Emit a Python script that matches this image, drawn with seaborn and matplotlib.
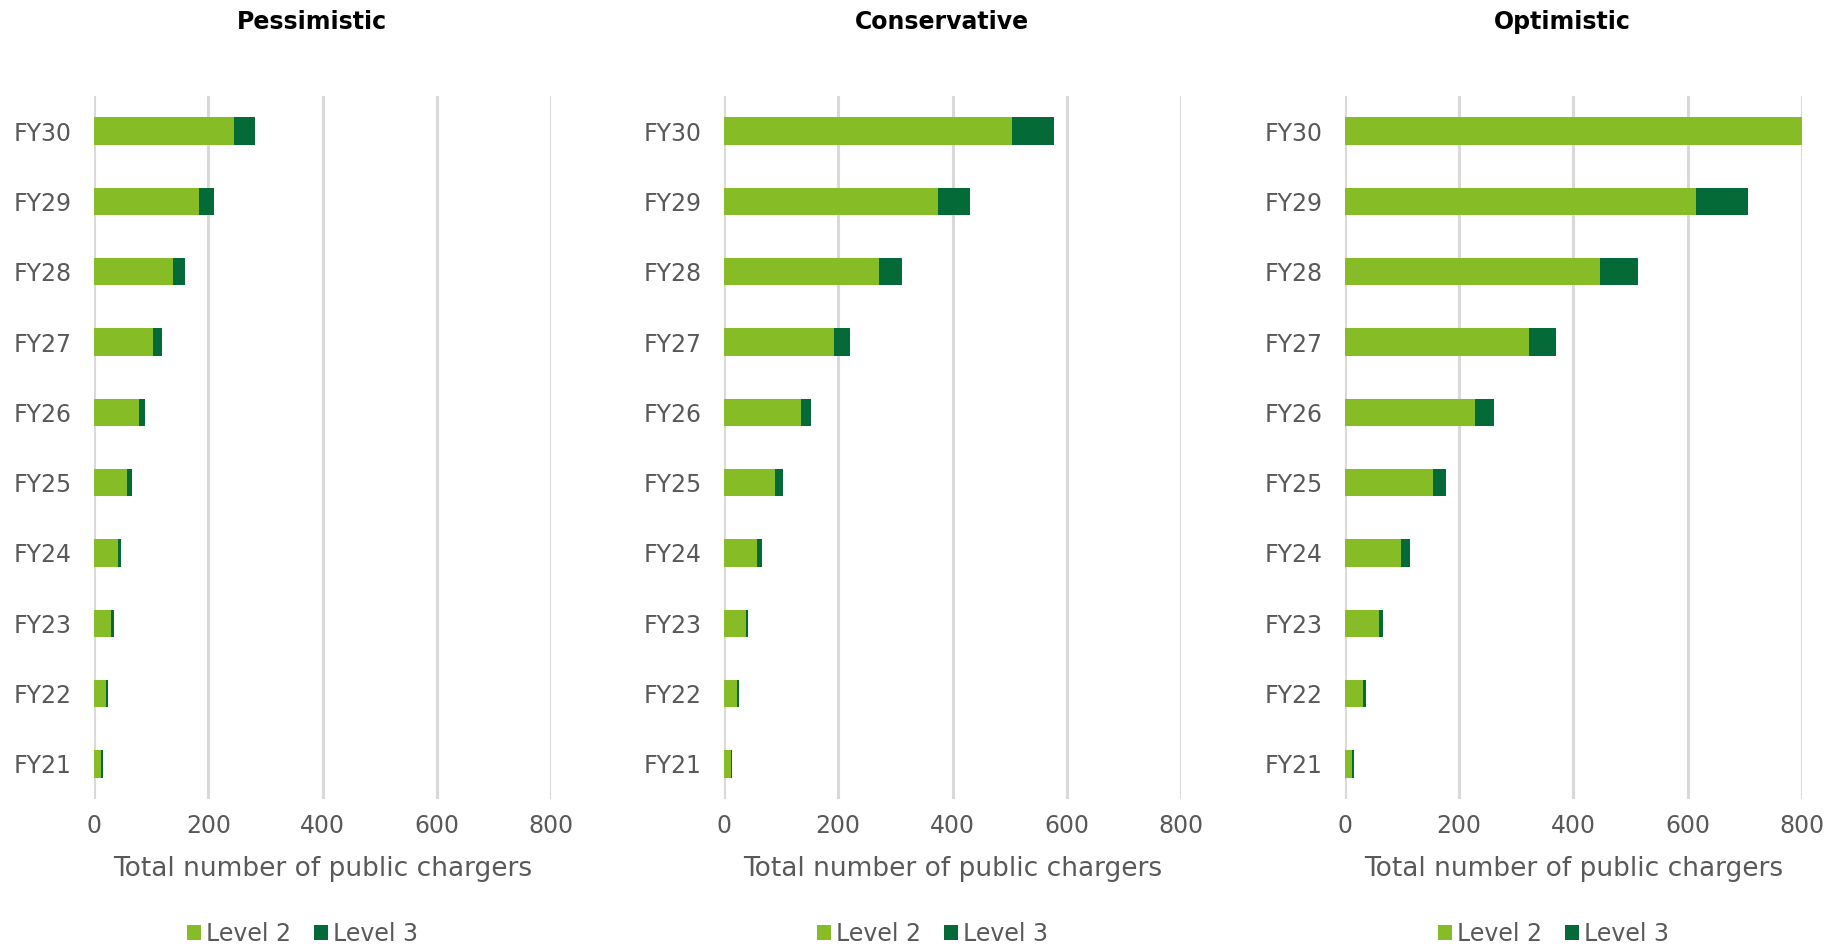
import matplotlib
matplotlib.use("Agg")
import matplotlib.pyplot as plt
from matplotlib.patches import Patch
import pandas as pd
import seaborn as sns

# Fiscal years, top to bottom
years = ["FY30", "FY29", "FY28", "FY27", "FY26", "FY25", "FY24", "FY23", "FY22", "FY21"]
scenarios = ["Pessimistic", "Conservative", "Optimistic"]

# Public chargers by type for each scenario
pessimistic_level2 = [245, 183, 138, 104, 78, 57, 42, 29, 21, 13]
pessimistic_level3 = [37, 27, 22, 15, 12, 9, 6, 6, 3, 2]
conservative_level2 = [504, 374, 272, 193, 134, 90, 57, 38, 22, 12]
conservative_level3 = [74, 56, 40, 28, 19, 14, 10, 4, 4, 2]
optimistic_level2 = [860, 614, 446, 322, 228, 154, 98, 59, 31, 13]
optimistic_level3 = [125, 91, 67, 48, 33, 23, 15, 8, 5, 2]

xticks = [0, 200, 400, 600, 800]
x_label = "Total number of public chargers"
series_names = ["Level 2", "Level 3"]

LIGHT = "#86BC25"
DARK = "#046A38"
GRID = "#D9D9D9"
TEXT = "#595959"
FS = 17

sns.set_style("white")
plt.rcParams["font.family"] = ["DejaVu Sans"]

level2 = [pessimistic_level2, conservative_level2, optimistic_level2]
level3 = [pessimistic_level3, conservative_level3, optimistic_level3]

fig = plt.figure(figsize=(18.4, 9.5), dpi=100)
W, H = 1840, 950
lefts = [94, 724, 1345]
ax_w = 457
ax_top, ax_bot = 96, 799

for i, name in enumerate(scenarios):
    ax = fig.add_axes([lefts[i] / W, 1 - ax_bot / H, ax_w / W, (ax_bot - ax_top) / H])
    df = pd.DataFrame({
        "year": years,
        "l2": level2[i],
        "total": [a + b for a, b in zip(level2[i], level3[i])],
    })
    # stacked bars: total (dark) underneath, Level 2 (light) on top
    sns.barplot(data=df, x="total", y="year", order=years, orient="h",
                color=DARK, saturation=1, width=0.39, linewidth=0, ax=ax, zorder=3)
    sns.barplot(data=df, x="l2", y="year", order=years, orient="h",
                color=LIGHT, saturation=1, width=0.39, linewidth=0, ax=ax, zorder=4)

    ax.set_xlim(0, 800)
    ax.set_ylim(9.5, -0.5)
    ax.set_xticks(xticks)
    ax.set_xticklabels([str(t) for t in xticks])
    ax.grid(axis="x", color=GRID, linewidth=2.2, zorder=0)
    ax.grid(axis="y", visible=False)
    for s in ax.spines.values():
        s.set_visible(False)
    ax.tick_params(axis="y", length=0, pad=16, labelsize=FS, labelcolor=TEXT)
    ax.tick_params(axis="x", length=0, pad=11, labelsize=FS, labelcolor=TEXT)
    ax.set_ylabel("")
    ax.set_xlabel(x_label, fontsize=19, color=TEXT, labelpad=13)

    cx = (lefts[i] + ax_w / 2 - 11) / W
    fig.text(cx, 1 - 22 / H, name, ha="center", va="center",
             fontsize=17, fontweight="bold", color="black")

    handles = [Patch(facecolor=LIGHT, edgecolor="none"),
               Patch(facecolor=DARK, edgecolor="none")]
    fig.legend(handles, series_names, loc="center",
               bbox_to_anchor=((lefts[i] + ax_w / 2 - 20) / W, 1 - 934 / H),
               ncol=2, frameon=False, fontsize=FS, labelcolor=TEXT,
               handlelength=0.6, handleheight=0.6, handletextpad=0.2,
               columnspacing=1.0, borderpad=0, borderaxespad=0)

fig.savefig("out.png", dpi=100, facecolor="white")
